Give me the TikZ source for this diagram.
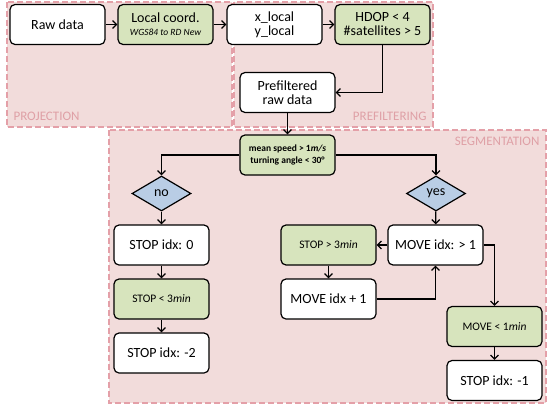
\documentclass[tikz,border=0pt]{standalone}
\usepackage{fontspec}
\setmainfont{Carlito}
\usepackage{tikz}
\usetikzlibrary{arrows.meta, positioning, shapes.geometric}

\definecolor{regionfill}{HTML}{F2DCDB}
\definecolor{regionline}{HTML}{E4A0A8}
\definecolor{regiontext}{HTML}{DFA0A6}
\definecolor{condgreen}{HTML}{D7E4BD}
\definecolor{choiceblue}{HTML}{B9CDE5}

\begin{document}
\begin{tikzpicture}[x=1pt, y=-1pt,
    >={Straight Barb[length=4pt, width=8pt]},
    every node/.style={font=\fontsize{14}{16}\selectfont},
    flowbox/.style={draw, line width=1.2pt, rounded corners=5pt, fill=white,
      minimum width=95pt, minimum height=40pt, align=center, inner sep=2pt},
    condbox/.style={flowbox, fill=condgreen},
    choice/.style={diamond, draw, line width=1.2pt, fill=choiceblue, aspect=1.7,
      minimum width=59pt, minimum height=35pt, inner sep=0pt},
    region/.style={fill=regionfill, draw=regionline, line width=1.1pt,
      dash pattern=on 6pt off 3pt},
    regionlabel/.style={text=regiontext, font=\fontsize{13}{15}\selectfont},
    link/.style={->, line width=1.2pt}]
  \useasboundingbox (0,0) rectangle (549,407);

  % Regions ------------------------------------------------------------------
  \draw[region] (7,2) rectangle (232,127);
  \draw[region] (234,2) rectangle (433,127);
  \draw[region] (109,130) rectangle (546,403);
  \node[regionlabel, anchor=west] (projlbl) at (10,116) {PROJECTION};
  \node[regionlabel, anchor=east] (prelbl) at (430,116) {PREFILTERING};
  \node[regionlabel, anchor=east] (seglbl) at (543,141) {SEGMENTATION};

  % Projection and prefiltering ----------------------------------------------
  \node[flowbox] (raw) at (57.5,24.5) {Raw data};
  \node[condbox] (local) at (165.5,24.5)
    {Local coord.\\[-3pt]{\fontsize{9.5}{11}\selectfont\itshape WGS84 to RD New}};
  \node[flowbox] (xy) at (274.5,24.5) {x\_local\\[-2pt]y\_local};
  \node[condbox] (hdop) at (382.5,24.5) {HDOP < 4\\[-2pt]\#satellites > 5};
  \node[flowbox] (prefilt) at (287.5,92.5) {Prefiltered\\[-2pt]raw data};

  % Segmentation -------------------------------------------------------------
  \node[condbox, font=\fontsize{9.5}{11.5}\selectfont\bfseries] (speed) at (287.5,155)
    {mean speed > 1\textit{m/s}\\turning angle < 30°};
  \node[choice] (no) at (161.5,193.5) {no};
  \node[choice] (yes) at (436,193.5) {yes};

  \node[flowbox] (stop0) at (161.5,245) {STOP idx: 0};
  \node[condbox, font=\fontsize{11.5}{13}\selectfont] (stoplt) at (161.5,299)
    {STOP < 3\textit{min}};
  \node[flowbox] (stop2) at (161.5,353) {STOP idx: -2};

  \node[condbox, font=\fontsize{11.5}{13}\selectfont] (stopgt) at (328.5,245)
    {STOP > 3\textit{min}};
  \node[flowbox] (movegt) at (435.5,245) {MOVE idx: > 1};
  \node[flowbox] (moveinc) at (328.5,299) {MOVE idx + 1};
  \node[condbox, font=\fontsize{11.5}{13}\selectfont] (movelt) at (494.5,326.5)
    {MOVE < 1\textit{min}};
  \node[flowbox] (stop1) at (494.5,380.5) {STOP idx: -1};

  % Connectors ---------------------------------------------------------------
  \draw[link] (raw) -- (local);
  \draw[link] (local) -- (xy);
  \draw[link] (xy) -- (hdop);
  \draw[link] (hdop.south) |- (prefilt.east);
  \draw[link] (prefilt) -- (speed);
  \draw[link] (speed.west) -| (no.north);
  \draw[link] (speed.east) -| (yes.north);
  \draw[link] (no) -- (stop0);
  \draw[link] (stop0) -- (stoplt);
  \draw[link] (stoplt) -- (stop2);
  \draw[link] (yes) -- (movegt);
  \draw[link] (movegt) -- (stopgt);
  \draw[link] (stopgt) -- (moveinc);
  \draw[link] (moveinc.east) -| (movegt.south);
  \draw[link] (movegt.east) -| (movelt.north);
  \draw[link] (movelt) -- (stop1);
\end{tikzpicture}
\end{document}
